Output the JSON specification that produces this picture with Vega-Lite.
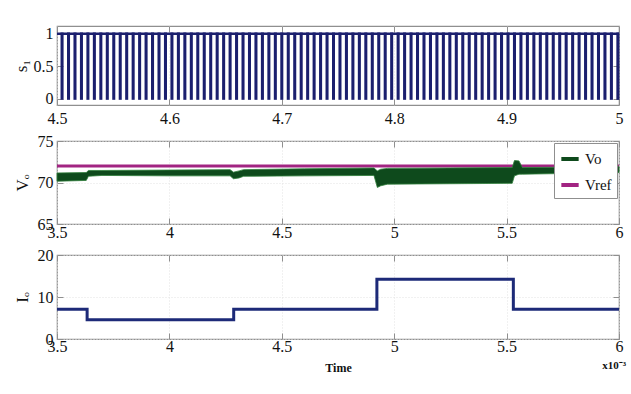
{
  "$schema": "https://vega.github.io/schema/vega-lite/v6.json",
  "background": "white",
  "padding": {"left": 11, "top": 24, "right": 8, "bottom": 6},
  "spacing": 5,
  "resolve": {"scale": {"color": "independent"}, "legend": {"color": "independent"}},
  "config": {
    "view": {"stroke": "#8f8f8f", "strokeWidth": 1.2},
    "axis": {
      "labelFont": "Liberation Serif", "labelFontSize": 16, "labelColor": "#111",
      "titleFont": "Liberation Serif", "titleFontSize": 17, "titleFontWeight": "normal", "titleColor": "#111",
      "domain": false, "tickColor": "#8f8f8f", "tickSize": -6, "tickWidth": 1,
      "gridColor": "#e3e3e3", "gridDash": [1, 2],
      "labelFlush": false, "labelOverlap": false, "labelBound": false
    },
    "legend": {
      "orient": "top-right", "offset": 2, "padding": 5, "strokeColor": "#8f8f8f", "fillColor": "white",
      "labelFont": "Liberation Serif", "labelFontSize": 15, "labelColor": "#111",
      "symbolType": "stroke", "symbolStrokeWidth": 4, "symbolSize": 300, "rowPadding": 7
    }
  },
  "vconcat": [
    {
      "width": 562, "height": 79,
      "data": {"values": [
        {"fall":4.5043,"rise":4.5047},{"fall":4.51005,"rise":4.51045},{"fall":4.5158,"rise":4.5162},{"fall":4.52155,"rise":4.52195},
        {"fall":4.5273,"rise":4.5277},{"fall":4.53305,"rise":4.53345},{"fall":4.5388,"rise":4.5392},{"fall":4.54455,"rise":4.54495},
        {"fall":4.5503,"rise":4.5507},{"fall":4.55605,"rise":4.55645},{"fall":4.5618,"rise":4.5622},{"fall":4.56755,"rise":4.56795},
        {"fall":4.5733,"rise":4.5737},{"fall":4.57905,"rise":4.57945},{"fall":4.5848,"rise":4.5852},{"fall":4.59055,"rise":4.59095},
        {"fall":4.5963,"rise":4.5967},{"fall":4.60205,"rise":4.60245},{"fall":4.6078,"rise":4.6082},{"fall":4.61355,"rise":4.61395},
        {"fall":4.6193,"rise":4.6197},{"fall":4.62505,"rise":4.62545},{"fall":4.6308,"rise":4.6312},{"fall":4.63655,"rise":4.63695},
        {"fall":4.6423,"rise":4.6427},{"fall":4.64805,"rise":4.64845},{"fall":4.6538,"rise":4.6542},{"fall":4.65955,"rise":4.65995},
        {"fall":4.6653,"rise":4.6657},{"fall":4.67105,"rise":4.67145},{"fall":4.6768,"rise":4.6772},{"fall":4.68255,"rise":4.68295},
        {"fall":4.6883,"rise":4.6887},{"fall":4.69405,"rise":4.69445},{"fall":4.6998,"rise":4.7002},{"fall":4.70555,"rise":4.70595},
        {"fall":4.7113,"rise":4.7117},{"fall":4.71705,"rise":4.71745},{"fall":4.7228,"rise":4.7232},{"fall":4.72855,"rise":4.72895},
        {"fall":4.7343,"rise":4.7347},{"fall":4.74005,"rise":4.74045},{"fall":4.7458,"rise":4.7462},{"fall":4.75155,"rise":4.75195},
        {"fall":4.7573,"rise":4.7577},{"fall":4.76305,"rise":4.76345},{"fall":4.7688,"rise":4.7692},{"fall":4.77455,"rise":4.77495},
        {"fall":4.7803,"rise":4.7807},{"fall":4.78605,"rise":4.78645},{"fall":4.7918,"rise":4.7922},{"fall":4.79755,"rise":4.79795},
        {"fall":4.8033,"rise":4.8037},{"fall":4.80905,"rise":4.80945},{"fall":4.8148,"rise":4.8152},{"fall":4.82055,"rise":4.82095},
        {"fall":4.8263,"rise":4.8267},{"fall":4.83205,"rise":4.83245},{"fall":4.8378,"rise":4.8382},{"fall":4.84355,"rise":4.84395},
        {"fall":4.8493,"rise":4.8497},{"fall":4.85505,"rise":4.85545},{"fall":4.8608,"rise":4.8612},{"fall":4.86655,"rise":4.86695},
        {"fall":4.8723,"rise":4.8727},{"fall":4.87805,"rise":4.87845},{"fall":4.8838,"rise":4.8842},{"fall":4.88955,"rise":4.88995},
        {"fall":4.8953,"rise":4.8957},{"fall":4.90105,"rise":4.90145},{"fall":4.9068,"rise":4.9072},{"fall":4.91255,"rise":4.91295},
        {"fall":4.9183,"rise":4.9187},{"fall":4.92405,"rise":4.92445},{"fall":4.9298,"rise":4.9302},{"fall":4.93555,"rise":4.93595},
        {"fall":4.9413,"rise":4.9417},{"fall":4.94705,"rise":4.94745},{"fall":4.9528,"rise":4.9532},{"fall":4.95855,"rise":4.95895},
        {"fall":4.9643,"rise":4.9647},{"fall":4.97005,"rise":4.97045},{"fall":4.9758,"rise":4.9762},{"fall":4.98155,"rise":4.98195},
        {"fall":4.9873,"rise":4.9877},{"fall":4.99305,"rise":4.99345},{"fall":4.9988,"rise":4.9992}
      ]},
      "layer": [
        {
          "data": {"values": [{"level": 1}]},
          "mark": {"type": "rule", "color": "#1b1f6e", "strokeWidth": 2.6},
          "encoding": {
            "y": {"field": "level", "type": "quantitative", "scale": {"domain": [-0.1, 1.12], "nice": false, "zero": false}, "axis": null}
          }
        },
        {
          "mark": {"type": "rect", "color": "#1b1f6e", "stroke": "#1b1f6e", "strokeWidth": 2.6},
          "encoding": {
            "x": {"field": "fall", "type": "quantitative", "scale": {"domain": [4.5, 5], "nice": false, "zero": false},
                  "axis": {"values": [4.5, 4.6, 4.7, 4.8, 4.9, 5], "format": "~g", "title": null, "labelPadding": 11, "grid": true}},
            "x2": {"field": "rise"},
            "y": {"datum": 0, "type": "quantitative", "axis": {"values": [0, 0.5, 1], "format": "~g", "title": "s₁", "labelPadding": 10, "titlePadding": 3, "grid": false}},
            "y2": {"datum": 1}
          }
        },
        {
          "mark": {"type": "rect", "opacity": 0},
          "encoding": {
            "x": {"field": "fall", "type": "quantitative", "axis": {"orient": "top", "labels": false, "title": null, "grid": false, "values": [4.5, 4.6, 4.7, 4.8, 4.9, 5]}},
            "x2": {"field": "rise"},
            "y": {"datum": 0, "type": "quantitative", "axis": {"orient": "right", "labels": false, "title": null, "grid": false, "values": [0, 0.5, 1]}},
            "y2": {"datum": 1}
          }
        }
      ],
      "resolve": {"axis": {"x": "independent", "y": "independent"}}
    },
    {
      "width": 562, "height": 83,
      "layer": [
        {
          "data": {"values": [{"t": 3.5, "v": 72}, {"t": 6, "v": 72}]},
          "mark": {"type": "line", "strokeWidth": 3},
          "encoding": {
            "x": {"field": "t", "type": "quantitative", "scale": {"domain": [3.5, 6], "nice": false, "zero": false},
                  "axis": {"values": [3.5, 4, 4.5, 5, 5.5, 6], "format": "~g", "title": null, "labelPadding": 6, "grid": true}},
            "y": {"field": "v", "type": "quantitative", "scale": {"domain": [65, 75], "nice": false, "zero": false},
                  "axis": {"values": [65, 70, 75], "title": "Vₒ", "labelPadding": 10, "titlePadding": 6, "grid": true}},
            "color": {"datum": "Vref", "type": "nominal", "scale": {"domain": ["Vo", "Vref"], "range": ["#0e4a1c", "#a22482"]}, "legend": {"title": null}}
          }
        },
        {
          "data": {"values": [
            {"t": 3.5, "lo": 70.15, "hi": 71.15},
            {"t": 3.63, "lo": 70.25, "hi": 71.2},
            {"t": 3.64, "lo": 70.75, "hi": 71.45},
            {"t": 3.7, "lo": 70.85, "hi": 71.45},
            {"t": 4.0, "lo": 70.8, "hi": 71.5},
            {"t": 4.27, "lo": 70.8, "hi": 71.55},
            {"t": 4.285, "lo": 70.45, "hi": 71.25},
            {"t": 4.31, "lo": 70.55, "hi": 71.4},
            {"t": 4.33, "lo": 70.75, "hi": 71.55},
            {"t": 4.6, "lo": 70.8, "hi": 71.65},
            {"t": 4.91, "lo": 70.85, "hi": 71.75},
            {"t": 4.925, "lo": 69.4, "hi": 71.4},
            {"t": 4.94, "lo": 69.6, "hi": 71.6},
            {"t": 4.97, "lo": 69.8, "hi": 71.7},
            {"t": 5.25, "lo": 69.85, "hi": 71.75},
            {"t": 5.525, "lo": 69.9, "hi": 71.8},
            {"t": 5.535, "lo": 70.8, "hi": 72.65},
            {"t": 5.555, "lo": 71.0, "hi": 72.6},
            {"t": 5.57, "lo": 71.0, "hi": 71.8},
            {"t": 5.8, "lo": 71.1, "hi": 71.85},
            {"t": 6.0, "lo": 71.2, "hi": 71.9}
          ]},
          "mark": {"type": "area", "stroke": "#2e7d3a", "strokeWidth": 0.8},
          "encoding": {
            "x": {"field": "t", "type": "quantitative", "axis": null},
            "y": {"field": "lo", "type": "quantitative", "axis": null},
            "y2": {"field": "hi"},
            "color": {"datum": "Vo", "type": "nominal"}
          }
        },
        {
          "data": {"values": [{"t": 3.5, "v": 72}, {"t": 6, "v": 72}]},
          "mark": {"type": "line", "opacity": 0},
          "encoding": {
            "x": {"field": "t", "type": "quantitative", "axis": {"orient": "top", "labels": false, "title": null, "grid": false, "values": [3.5, 4, 4.5, 5, 5.5, 6]}},
            "y": {"field": "v", "type": "quantitative", "axis": {"orient": "right", "labels": false, "title": null, "grid": false, "values": [65, 70, 75]}}
          }
        }
      ],
      "resolve": {"axis": {"x": "independent", "y": "independent"}}
    },
    {
      "width": 562, "height": 84,
      "title": {"text": "x10⁻³", "orient": "bottom", "anchor": "end", "font": "Liberation Serif", "fontSize": 11, "fontWeight": "bold", "color": "#111", "offset": -13, "dx": 1},
      "data": {"values": [
        {"t": 3.5, "io": 7.1},
        {"t": 3.634, "io": 4.6},
        {"t": 4.286, "io": 7.1},
        {"t": 4.923, "io": 14.2},
        {"t": 5.53, "io": 7.1},
        {"t": 6.0, "io": 7.1}
      ]},
      "layer": [
        {
          "mark": {"type": "line", "interpolate": "step-after", "color": "#1d2a78", "strokeWidth": 3},
          "encoding": {
            "x": {"field": "t", "type": "quantitative", "scale": {"domain": [3.5, 6], "nice": false, "zero": false},
                  "axis": {"values": [3.5, 4, 4.5, 5, 5.5, 6], "format": "~g", "title": "Time", "titleFontSize": 12, "titleFontWeight": "bold", "titlePadding": 8, "labelPadding": 5, "grid": true}},
            "y": {"field": "io", "type": "quantitative", "scale": {"domain": [0, 20], "nice": false},
                  "axis": {"values": [0, 10, 20], "title": "Iₒ", "labelPadding": 10, "titlePadding": 6, "grid": true}}
          }
        },
        {
          "mark": {"type": "line", "opacity": 0},
          "encoding": {
            "x": {"field": "t", "type": "quantitative", "axis": {"orient": "top", "labels": false, "title": null, "grid": false, "values": [3.5, 4, 4.5, 5, 5.5, 6]}},
            "y": {"field": "io", "type": "quantitative", "axis": {"orient": "right", "labels": false, "title": null, "grid": false, "values": [0, 10, 20]}}
          }
        }
      ],
      "resolve": {"axis": {"x": "independent", "y": "independent"}}
    }
  ]
}
